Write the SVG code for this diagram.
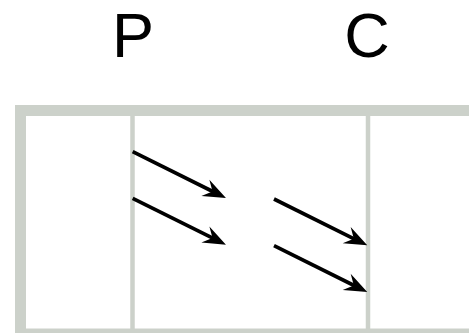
<svg xmlns="http://www.w3.org/2000/svg" width="469" height="333" viewBox="0 0 469 333">
  <style>
    .frame { fill: none; stroke: #ccd1ca; }
    .label { font-family: "Liberation Sans", Arial, sans-serif; font-size: 63px; fill: #000; text-anchor: middle; }
    .flow { stroke: #000; stroke-width: 3.7; fill: none; marker-end: url(#head); }
  </style>
  <defs>
    <!-- arrowhead tip sits 8px beyond the line end so the line's butt stays hidden -->
    <marker id="head" markerUnits="userSpaceOnUse" viewBox="-16 -10 25 20" markerWidth="25" markerHeight="20" refX="0" refY="0" orient="auto" overflow="visible">
      <path d="M8,0 L-15,-9 L-7,0 L-15,9 Z" fill="#000"/>
    </marker>
  </defs>

  <!-- outer frame and column dividers -->
  <g id="frame">
    <rect class="frame" x="20.5" y="110.5" width="470" height="223.5" stroke-width="11"/>
    <line class="frame" x1="132.5" y1="115" x2="132.5" y2="329" stroke-width="4.5"/>
    <line class="frame" x1="368" y1="115" x2="368" y2="329" stroke-width="4.5"/>
  </g>

  <g id="label-P"><text class="label" x="133" y="57.3">P</text></g>
  <g id="label-C"><text class="label" x="367" y="57.3">C</text></g>

  <!-- transfer arrows -->
  <g id="connectors">
    <line class="flow" x1="132.7" y1="151.7" x2="218.8" y2="194.5"/>
    <line class="flow" x1="132.7" y1="198.3" x2="218.8" y2="241.2"/>
    <line class="flow" x1="274" y1="199" x2="360.1" y2="241.8"/>
    <line class="flow" x1="274" y1="245.7" x2="360.1" y2="288.5"/>
  </g>
</svg>
